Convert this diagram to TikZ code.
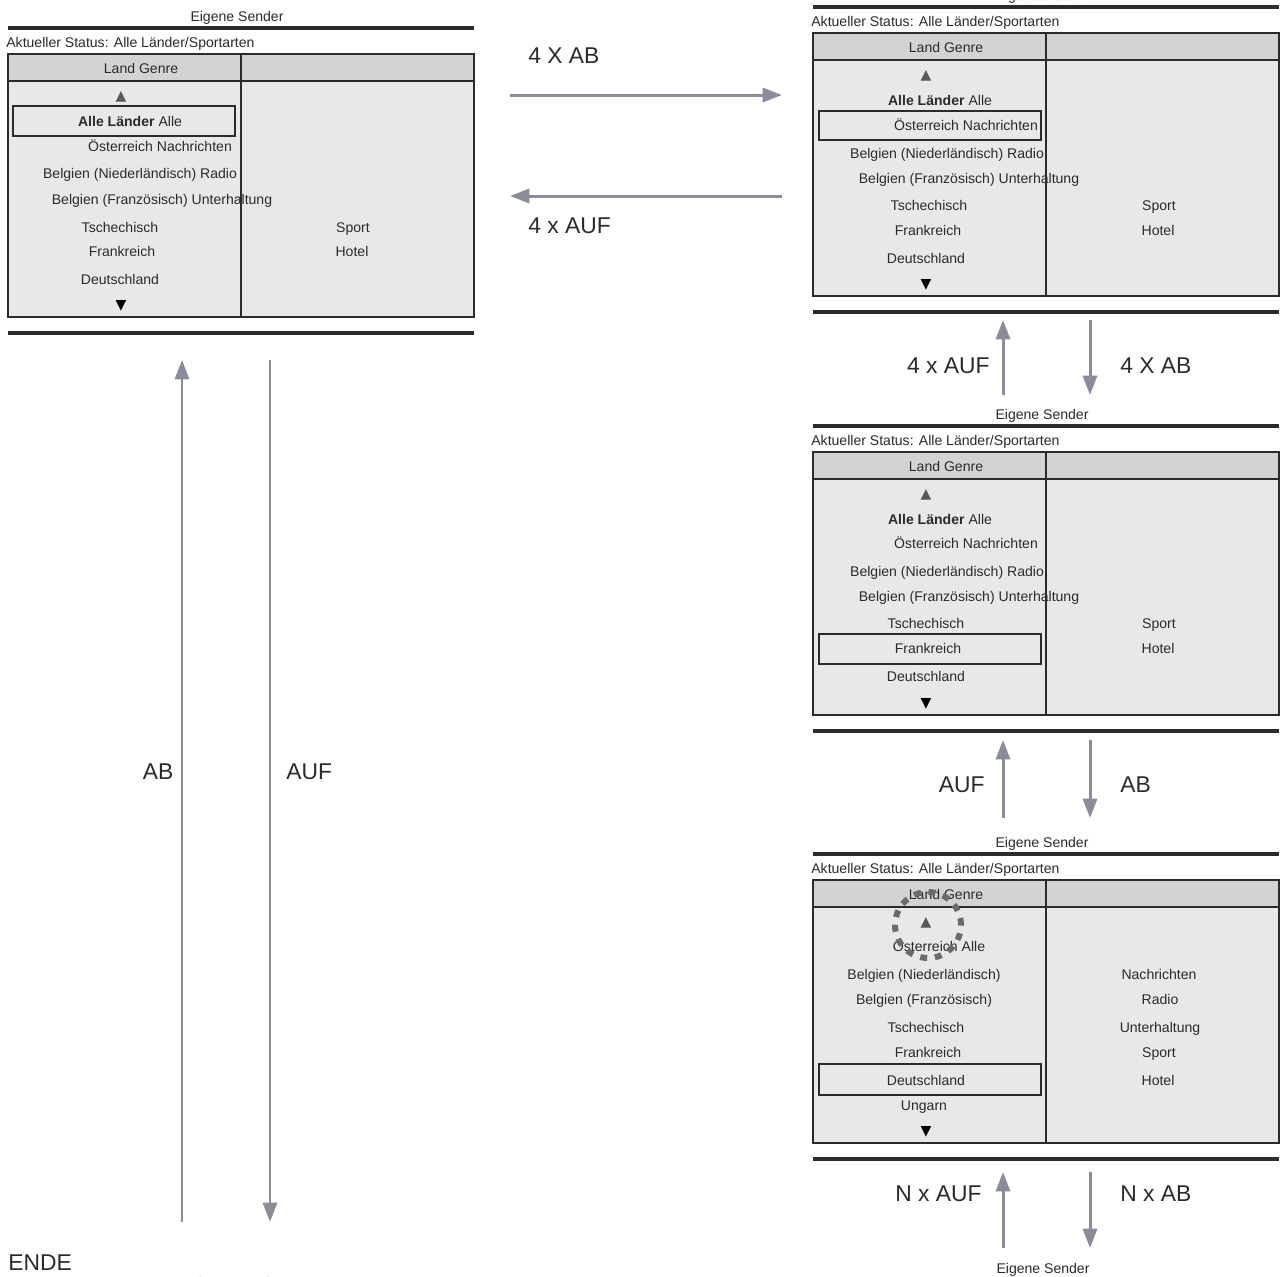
\documentclass[tikz,border=0pt]{standalone}
\usepackage{fontspec}
\setmainfont{Liberation Sans}
\newfontfamily\symfont{DejaVu Sans}
\usetikzlibrary{arrows.meta}
\definecolor{boxgray}{HTML}{E8E8E8}
\definecolor{headgray}{HTML}{D3D3D3}
\definecolor{flowgray}{HTML}{8A8C9A}
\definecolor{ink}{HTML}{2B2B2B}
\tikzset{
  item/.style={font=\fontsize{8}{9}\selectfont, text=ink, inner sep=0pt,
    text height=5.8pt, text depth=0pt},
  cmd/.style={font=\fontsize{13}{15}\selectfont, text=ink, inner sep=0pt,
    text height=9.4pt, text depth=0pt},
  flow/.style={draw=flowgray, line width=1.7pt, -{Triangle[width=8pt,length=11pt]}},
  sel/.style={draw=ink, line width=1pt},
  sepline/.style={draw=ink, line width=2.2pt},
  ring/.style={draw=black!58, line width=3.4pt, dash pattern=on 4pt off 4.4pt}
}
% frame of one screen, origin at the top left corner of the list box
\newcommand{\senderframe}[1]{%
  \fill[boxgray] (0,0) rectangle (466,263);
  \fill[headgray] (0,0) rectangle (466,27);
  \draw[ink, line width=1pt] (0,0) rectangle (466,263);
  \draw[ink, line width=1pt] (0,27) -- (466,27);
  \draw[ink, line width=1pt] (233,0) -- (233,263);
  \draw[sepline] (0,-26) -- (466,-26);
  \draw[sepline] (0,279) -- (466,279);
  \node[item] (#1head) at (229,-38) {Eigene Sender};
  \node[item, anchor=west] (#1status) at (-2,-12) {Aktueller Status: Alle Länder/Sportarten};
  \node[item] (#1genre) at (133,14) {Land Genre};
  \node[item, text=black!65] (#1up) at (113,41) {\symfont ▲};
  \node[item, text=black] (#1down) at (113,250) {\symfont ▼};
}
\begin{document}
\begin{tikzpicture}[x=0.02cm, y=-0.02cm]
\useasboundingbox (0,0) rectangle (1285,1276);
\fill[white] (0,0) rectangle (1285,1276);

% first screen
\begin{scope}[shift={(8,54)}]
\senderframe{p1}
\draw[sel] (5,52) rectangle (227,82);
\node[item] (p1alle) at (122,67) {\textbf{Alle Länder} Alle};
\node[item] (p1at) at (152,92) {Österreich Nachrichten};
\node[item] (p1bn) at (132,119) {Belgien (Niederländisch) Radio};
\node[item] (p1bf) at (154,145) {Belgien (Französisch) Unterhaltung};
\node[item] (p1cz) at (112,173) {Tschechisch};
\node[item] (p1fr) at (114,197) {Frankreich};
\node[item] (p1de) at (112,225) {Deutschland};
\node[item] (p1sport) at (345,173) {Sport};
\node[item] (p1hotel) at (344,197) {Hotel};
\end{scope}

% second screen
\begin{scope}[shift={(813,33)}]
\senderframe{p2}
\draw[sel] (6,78) rectangle (228,107);
\node[item] (p2alle) at (127,67) {\textbf{Alle Länder} Alle};
\node[item] (p2at) at (153,92) {Österreich Nachrichten};
\node[item] (p2bn) at (134,120) {Belgien (Niederländisch) Radio};
\node[item] (p2bf) at (156,145) {Belgien (Französisch) Unterhaltung};
\node[item] (p2cz) at (116,172) {Tschechisch};
\node[item] (p2fr) at (115,197) {Frankreich};
\node[item] (p2de) at (113,225) {Deutschland};
\node[item] (p2sport) at (346,172) {Sport};
\node[item] (p2hotel) at (345,197) {Hotel};
\end{scope}

% third screen
\begin{scope}[shift={(813,452)}]
\senderframe{p3}
\draw[sel] (6,182) rectangle (228,212);
\node[item] (p3alle) at (127,67) {\textbf{Alle Länder} Alle};
\node[item] (p3at) at (153,91) {Österreich Nachrichten};
\node[item] (p3bn) at (134,119) {Belgien (Niederländisch) Radio};
\node[item] (p3bf) at (156,144) {Belgien (Französisch) Unterhaltung};
\node[item] (p3cz) at (113,171) {Tschechisch};
\node[item] (p3fr) at (115,196) {Frankreich};
\node[item] (p3de) at (113,224) {Deutschland};
\node[item] (p3sport) at (346,171) {Sport};
\node[item] (p3hotel) at (345,196) {Hotel};
\end{scope}

% fourth screen
\begin{scope}[shift={(813,880)}]
\senderframe{p4}
\draw[sel] (6,184) rectangle (228,215);
\node[item] (p4at) at (126,66) {Österreich Alle};
\node[item] (p4bn) at (111,94) {Belgien (Niederländisch)};
\node[item] (p4bf) at (111,119) {Belgien (Französisch)};
\node[item] (p4cz) at (113,147) {Tschechisch};
\node[item] (p4fr) at (115,172) {Frankreich};
\node[item] (p4de) at (113,200) {Deutschland};
\node[item] (p4hu) at (111,225) {Ungarn};
\node[item] (p4news) at (346,94) {Nachrichten};
\node[item] (p4radio) at (347,119) {Radio};
\node[item] (p4fun) at (347,147) {Unterhaltung};
\node[item] (p4sport) at (346,172) {Sport};
\node[item] (p4hotel) at (345,200) {Hotel};
\draw[ring] (115,45) circle[radius=0.66cm];
\end{scope}

% screens below, cut off
\node[item] (p5head) at (1043,1268) {Eigene Sender};
\node[item] (p6head) at (236,1282) {Eigene Sender};

% arrows between first and second screen
\coordinate (abL) at (510,95);
\coordinate (abR) at (782,95);
\coordinate (aufR) at (782,196);
\coordinate (aufL) at (510,196);
\draw[flow] (abL) -- (abR);
\draw[flow] (aufR) -- (aufL);
\node[cmd, anchor=west] (abtxt) at (528,55) {4 X AB};
\node[cmd, anchor=west] (auftxt) at (528,225) {4 x AUF};

% arrows between second and third screen
\coordinate (upAlow) at (1003,395);
\coordinate (upAtop) at (1003,320);
\coordinate (dnAtop) at (1090,320);
\coordinate (dnAlow) at (1090,395);
\draw[flow] (upAlow) -- (upAtop);
\draw[flow] (dnAtop) -- (dnAlow);
\node[cmd, anchor=east] (upAtxt) at (990,365) {4 x AUF};
\node[cmd, anchor=west] (dnAtxt) at (1120,365) {4 X AB};

% arrows between third and fourth screen
\coordinate (upBlow) at (1003,818);
\coordinate (upBtop) at (1003,740);
\coordinate (dnBtop) at (1090,740);
\coordinate (dnBlow) at (1090,818);
\draw[flow] (upBlow) -- (upBtop);
\draw[flow] (dnBtop) -- (dnBlow);
\node[cmd, anchor=east] (upBtxt) at (985,784) {AUF};
\node[cmd, anchor=west] (dnBtxt) at (1120,784) {AB};

% arrows below fourth screen
\coordinate (upClow) at (1003,1248);
\coordinate (upCtop) at (1003,1172);
\coordinate (dnCtop) at (1090,1172);
\coordinate (dnClow) at (1090,1248);
\draw[flow] (upClow) -- (upCtop);
\draw[flow] (dnCtop) -- (dnClow);
\node[cmd, anchor=east] (upCtxt) at (982,1193) {N x AUF};
\node[cmd, anchor=west] (dnCtxt) at (1120,1193) {N x AB};

% long arrows on the left
\coordinate (upLlow) at (182,1222);
\coordinate (upLtop) at (182,360);
\coordinate (dnLtop) at (270,360);
\coordinate (dnLlow) at (270,1222);
\draw[flow] (upLlow) -- (upLtop);
\draw[flow] (dnLtop) -- (dnLlow);
\node[cmd] (upLtxt) at (158,771) {AB};
\node[cmd, anchor=west] (dnLtxt) at (286,771) {AUF};
\node[cmd, anchor=west] (ende) at (8,1262) {ENDE};
\end{tikzpicture}
\end{document}
